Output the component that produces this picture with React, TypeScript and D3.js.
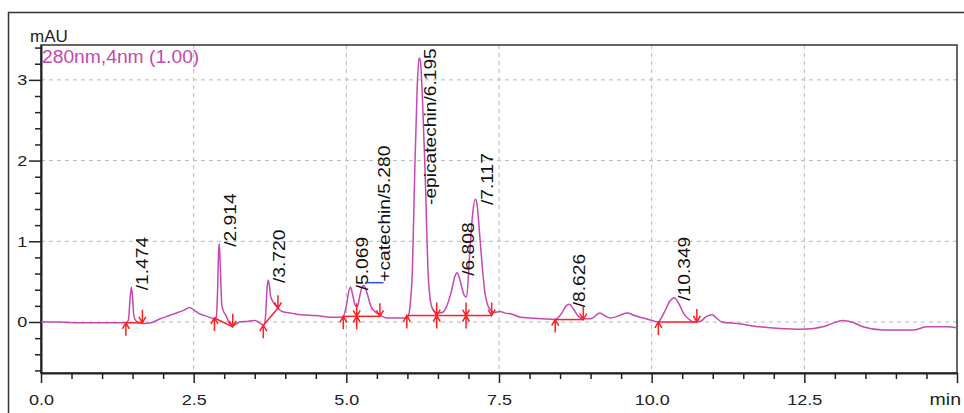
import React, { useEffect, useRef } from 'react';
import * as d3 from 'd3';

// chromatogram trace (min, mAU)
const traceTime = [
  0.0, 0.3, 0.6, 0.9, 1.2, 1.38, 1.43, 1.46, 1.48, 1.5, 1.52, 1.56, 1.62, 1.7, 1.8, 1.95, 2.1, 2.25, 2.35, 2.43,
  2.5, 2.6, 2.72, 2.84, 2.87, 2.89, 2.91, 2.92, 2.94, 2.96, 2.98, 3.03, 3.1, 3.15, 3.25, 3.4, 3.5, 3.6, 3.65, 3.68,
  3.7, 3.72, 3.74, 3.76, 3.8, 3.88, 3.95, 4.1, 4.25, 4.5, 4.75, 4.9, 4.95, 5.0, 5.04, 5.07, 5.1, 5.15, 5.18, 5.22,
  5.26, 5.29, 5.33, 5.4, 5.48, 5.55, 5.65, 5.8, 5.95, 6.01, 6.05, 6.08, 6.12, 6.16, 6.19, 6.21, 6.25, 6.29, 6.34, 6.38,
  6.43, 6.5, 6.58, 6.64, 6.72, 6.78, 6.81, 6.85, 6.89, 6.94, 6.97, 7.02, 7.07, 7.11, 7.13, 7.19, 7.23, 7.27, 7.31, 7.35,
  7.42, 7.52, 7.6, 7.7, 7.85, 8.0, 8.2, 8.42, 8.52, 8.6, 8.65, 8.72, 8.8, 8.88, 9.0, 9.15, 9.25, 9.32, 9.4, 9.5,
  9.6, 9.72, 9.86, 10.0, 10.1, 10.2, 10.3, 10.37, 10.45, 10.52, 10.6, 10.7, 10.8, 10.9, 10.99, 11.06, 11.15, 11.4, 11.77, 12.1,
  12.43, 12.65, 12.8, 12.95, 13.13, 13.28, 13.46, 13.79, 14.0, 14.28, 14.5, 14.84, 15.0,
];
const traceValue = [
  0.0, 0.0, -0.01, -0.01, -0.01, -0.01, 0.02, 0.3, 0.43, 0.3, 0.08, 0.01, -0.01, -0.02, -0.01, 0.04, 0.08, 0.12, 0.15, 0.18,
  0.15, 0.1, 0.07, 0.04, 0.06, 0.35, 0.9, 0.97, 0.6, 0.22, 0.15, 0.08, -0.03, -0.04, 0.0, 0.01, 0.02, -0.02, -0.04, 0.1,
  0.4, 0.52, 0.45, 0.32, 0.25, 0.17, 0.13, 0.11, 0.09, 0.08, 0.06, 0.06, 0.07, 0.2, 0.38, 0.43, 0.35, 0.2, 0.19, 0.32,
  0.44, 0.45, 0.38, 0.2, 0.12, 0.09, 0.05, 0.05, 0.05, 0.07, 0.25, 0.6, 1.85, 2.9, 3.27, 3.25, 2.7, 1.85, 0.6, 0.25,
  0.14, 0.11, 0.12, 0.19, 0.38, 0.57, 0.61, 0.55, 0.43, 0.32, 0.31, 0.85, 1.35, 1.52, 1.5, 1.02, 0.65, 0.36, 0.22, 0.16,
  0.12, 0.13, 0.11, 0.1, 0.06, 0.05, 0.04, 0.03, 0.1, 0.2, 0.22, 0.16, 0.07, 0.04, 0.04, 0.11, 0.07, 0.05, 0.06, 0.09,
  0.11, 0.08, 0.05, 0.02, 0.0, 0.11, 0.26, 0.3, 0.22, 0.11, 0.04, 0.0, 0.01, 0.07, 0.09, 0.05, 0.0, -0.02, -0.06, -0.08,
  -0.09, -0.08, -0.06, -0.02, 0.02, 0.0, -0.06, -0.1, -0.1, -0.1, -0.06, -0.06, -0.07,
];

// peak annotations
const peakTime = [1.474, 2.914, 3.72, 5.069, 5.28, 6.195, 6.808, 7.117, 8.626, 10.349];
const peakHeight = [0.43, 0.97, 0.52, 0.43, 0.45, 3.27, 0.61, 1.52, 0.22, 0.3];
const peakName = ['', '', '', '', '+catechin', '-epicatechin', '', '', '', ''];

// integration baselines
const integStart = [1.39, 2.84, 3.64, 4.95, 5.17, 5.99, 6.48, 6.96, 8.42, 10.11];
const integEnd = [1.66, 3.14, 3.88, 5.17, 5.55, 6.48, 6.96, 7.38, 8.88, 10.74];
const integStartLevel = [-0.01, 0.05, -0.04, 0.07, 0.07, 0.08, 0.08, 0.08, 0.03, 0.0];
const integEndLevel = [-0.01, -0.06, 0.17, 0.07, 0.07, 0.08, 0.08, 0.08, 0.03, 0.0];

const xMajor = [0, 2.5, 5, 7.5, 10, 12.5, 15];
const yMajor = [0, 1, 2, 3];
const xUnit = 'min';
const yUnit = 'mAU';
const channel = '280nm,4nm (1.00)';

const FONT = '"Liberation Sans", Arial, sans-serif';
const PURPLE = '#c548b4';
const RED = '#ff2020';

export default function App() {
  const ref = useRef<SVGSVGElement>(null);

  useEffect(() => {
    const svg = d3.select(ref.current);
    svg.selectAll('*').remove();

    const left = 41, right = 957, top = 45, bottom = 373;
    const x = d3.scaleLinear().domain([0, 15]).range([left, right]);
    const y = d3.scaleLinear().domain([-0.632, 3.432]).range([bottom, top]);

    svg.append('rect').attr('width', 964).attr('height', 413).attr('fill', '#fff');
    // outer frame
    svg.append('rect')
      .attr('x', 8.5).attr('y', 12.5).attr('width', 1000).attr('height', 500)
      .attr('fill', 'none').attr('stroke', '#333').attr('stroke-width', 1.5);

    // grid
    const grid = svg.append('g').attr('stroke', '#b8b8b8').attr('stroke-dasharray', '4,4').attr('stroke-width', 1);
    grid.selectAll('line.v').data(xMajor.slice(1, -1)).enter().append('line')
      .attr('x1', d => x(d)).attr('x2', d => x(d)).attr('y1', top).attr('y2', bottom);
    grid.selectAll('line.h').data(yMajor).enter().append('line')
      .attr('x1', left).attr('x2', right).attr('y1', d => y(d)).attr('y2', d => y(d));

    // plot frame
    svg.append('rect')
      .attr('x', left).attr('y', top).attr('width', right - left).attr('height', bottom - top)
      .attr('fill', 'none').attr('stroke', '#333').attr('stroke-width', 1.5);

    // axes
    const xMinor = d3.range(0.5, 15, 0.5).filter(d => Math.abs(d / 2.5 - Math.round(d / 2.5)) > 1e-6);
    const yMinor = d3.range(-0.6, 3.41, 0.2).filter(d => Math.abs(d - Math.round(d)) > 1e-6);

    svg.append('g').attr('transform', `translate(0,${bottom})`)
      .call(d3.axisBottom(x).tickValues(xMinor).tickSize(6).tickSizeOuter(0).tickFormat(() => ''))
      .call(g => g.select('.domain').remove());
    const gx = svg.append('g').attr('transform', `translate(0,${bottom})`)
      .call(d3.axisBottom(x).tickValues(xMajor).tickSize(10).tickSizeOuter(0)
        .tickFormat(d => (+d === 15 ? '' : d3.format('.1f')(+d))));
    svg.append('g').attr('transform', `translate(${left},0)`)
      .call(d3.axisLeft(y).tickValues(yMinor).tickSize(6).tickSizeOuter(0).tickFormat(() => ''))
      .call(g => g.select('.domain').remove());
    const gy = svg.append('g').attr('transform', `translate(${left},0)`)
      .call(d3.axisLeft(y).tickValues(yMajor).tickSize(12).tickSizeOuter(0).tickFormat(d3.format('d')));

    svg.selectAll('.tick line').attr('stroke', '#222').attr('stroke-width', 1.5);
    gx.select('.domain').attr('stroke', '#222').attr('stroke-width', 2);
    gy.select('.domain').attr('stroke', '#222').attr('stroke-width', 2);
    gx.selectAll('text')
      .attr('font-family', FONT).attr('font-size', 15).attr('fill', '#222')
      .attr('y', 32).attr('dy', null).attr('transform', 'scale(1.2,1)');
    gy.selectAll('text')
      .attr('font-family', FONT).attr('font-size', 15).attr('fill', '#222')
      .attr('x', -11.5).attr('transform', 'scale(1.2,1)');

    svg.append('text').text(xUnit)
      .attr('font-family', FONT).attr('font-size', 16).attr('fill', '#222')
      .attr('text-anchor', 'end').attr('transform', 'translate(961,405) scale(1.22,1)');
    svg.append('text').text(yUnit)
      .attr('x', 30).attr('y', 42)
      .attr('font-family', FONT).attr('font-size', 17).attr('fill', '#222');
    svg.append('text').text(channel)
      .attr('font-family', FONT).attr('font-size', 18).attr('fill', PURPLE)
      .attr('transform', 'translate(42,63) scale(1.07,1)');

    // trace
    svg.append('clipPath').attr('id', 'plotclip').append('rect')
      .attr('x', left).attr('y', top).attr('width', right - left).attr('height', bottom - top);
    const pts = traceTime.map((t, i) => [t, traceValue[i]] as [number, number]);
    const line = d3.line<[number, number]>().x(d => x(d[0])).y(d => y(d[1])).curve(d3.curveMonotoneX);
    svg.append('path').datum(pts)
      .attr('clip-path', 'url(#plotclip)')
      .attr('d', line).attr('fill', 'none').attr('stroke', PURPLE).attr('stroke-width', 1.5);

    // integration baselines and markers
    const integ = svg.append('g').attr('stroke', RED).attr('stroke-width', 1.5).attr('fill', 'none');
    integStart.forEach((s, i) => {
      const x1 = x(s), y1 = y(integStartLevel[i]);
      const x2 = x(integEnd[i]), y2 = y(integEndLevel[i]);
      integ.append('line').attr('x1', x1).attr('y1', y1).attr('x2', x2).attr('y2', y2);
      integ.append('path').attr('d', `M${x1},${y1}L${x1},${y1 + 13}M${x1 - 3.5},${y1 + 6}L${x1},${y1}L${x1 + 3.5},${y1 + 6}`);
      integ.append('path').attr('d', `M${x2},${y2}L${x2},${y2 - 13}M${x2 - 3.5},${y2 - 6}L${x2},${y2}L${x2 + 3.5},${y2 - 6}`);
    });

    // peak labels
    const labels = svg.append('g');
    let prevX = -100;
    peakTime.forEach((t, i) => {
      const px = x(t), py = y(peakHeight[i]);
      const text = `${peakName[i]}/${t.toFixed(3)}`;
      let lx = px + 17;
      let ly = Math.max(py + 3, top + 160);
      if (lx - prevX < 16) {
        lx = prevX + 22;
        ly = py - 4;
        labels.append('line')
          .attr('x1', px + 2).attr('x2', lx - 6).attr('y1', py - 3).attr('y2', py - 3)
          .attr('stroke', '#3050d0').attr('stroke-width', 1.5);
      }
      prevX = lx;
      labels.append('text').text(text)
        .attr('font-family', FONT).attr('font-size', 16).attr('fill', '#111')
        .attr('transform', `translate(${lx},${ly}) rotate(-90) scale(1.2,1)`);
    });
  }, []);

  return (
    <svg ref={ref} width={964} height={413} style={{ position: 'absolute', left: 0, top: 0 }} />
  );
}
